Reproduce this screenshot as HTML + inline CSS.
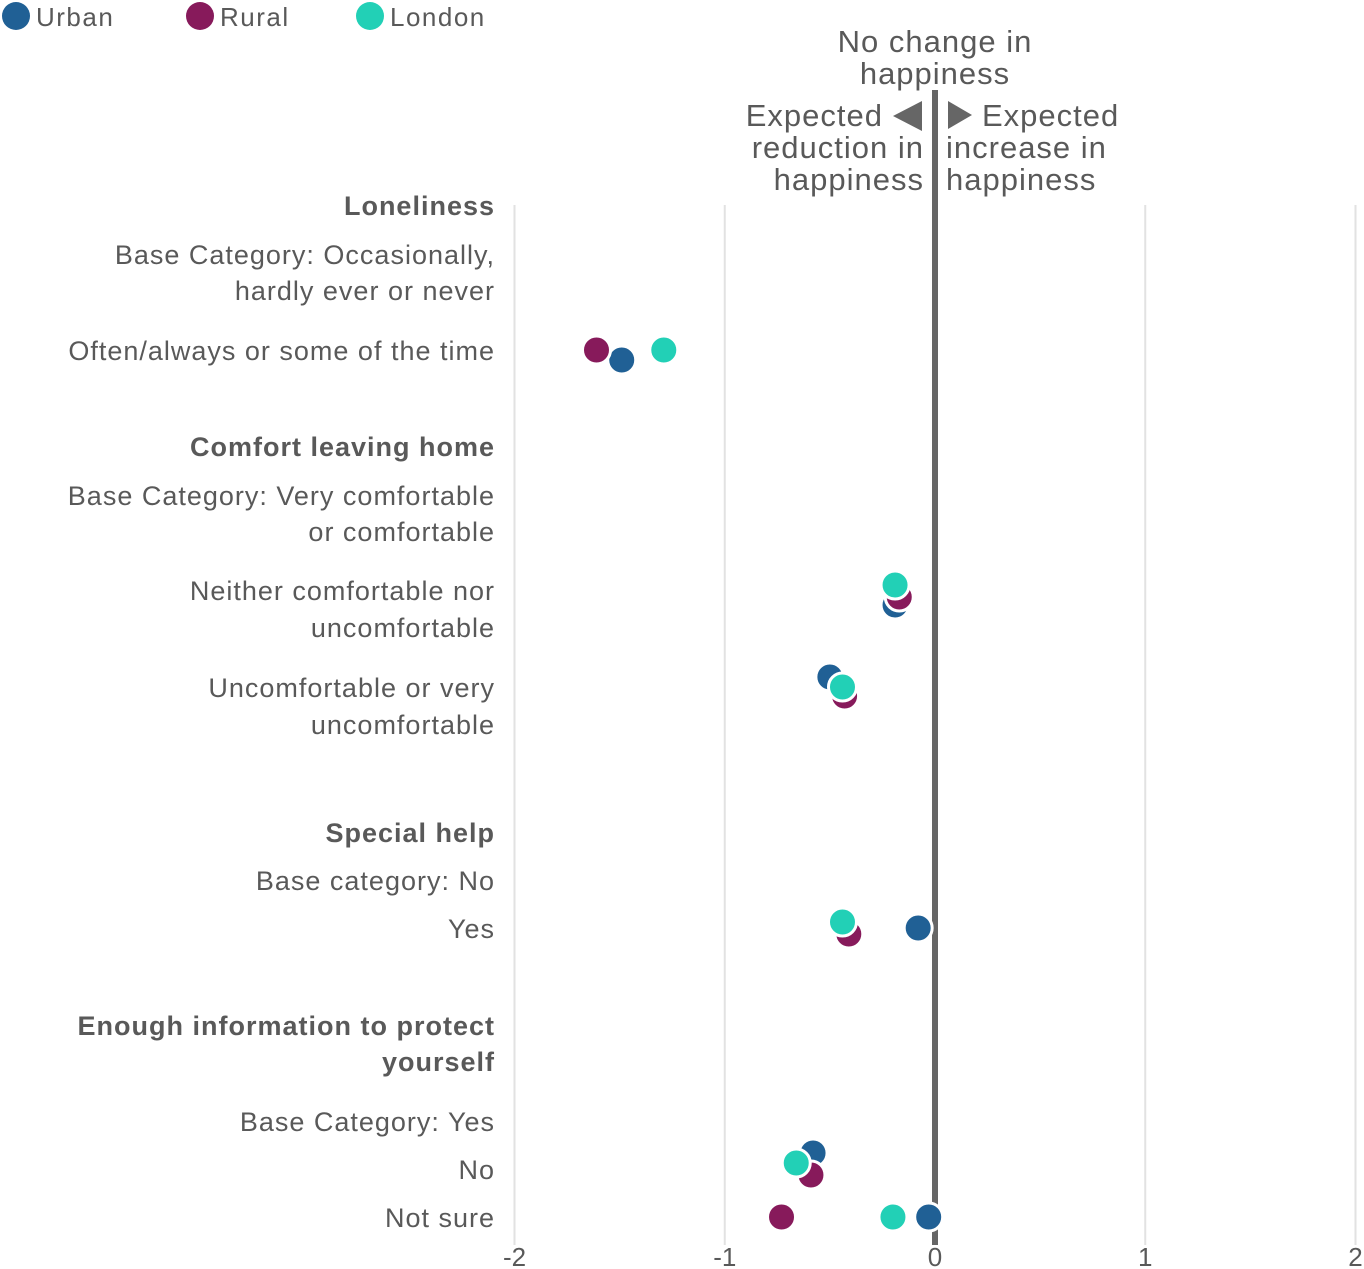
<!DOCTYPE html>
<html><head><meta charset="utf-8"><style>
body{margin:0;background:#fff;}
svg{display:block;font-family:"Liberation Sans",sans-serif;}
</style></head><body>
<svg id="chart" width="1364" height="1269" xmlns="http://www.w3.org/2000/svg">
<g id="legend" letter-spacing="1.5">
 <g><circle cx="16" cy="16" r="14" fill="#206095"/><text x="36" y="26" font-size="26" fill="#595959">Urban</text></g>
 <g><circle cx="200" cy="16" r="14" fill="#871a5b"/><text x="220" y="26" font-size="26" fill="#595959">Rural</text></g>
 <g><circle cx="370" cy="16" r="14" fill="#22d0b6"/><text x="390" y="26" font-size="26" fill="#595959">London</text></g>
</g>
<g id="grid"></g>
<g id="labels"></g>
<g id="annot" font-size="31" fill="#595959" letter-spacing="1">
 <text x="935" y="52" text-anchor="middle">No change in</text>
 <text x="935" y="84" text-anchor="middle">happiness</text>
 <text x="883" y="126" text-anchor="end">Expected</text>
 <text x="924" y="158" text-anchor="end">reduction in</text>
 <text x="924" y="190" text-anchor="end">happiness</text>
 <polygon points="922,101 922,131 893,116" fill="#666"/>
 <polygon points="948,101 948,129 972,115" fill="#666"/>
 <text x="982" y="126">Expected</text>
 <text x="946" y="158">increase in</text>
 <text x="946" y="190">happiness</text>
</g>
<g id="dots"></g>
</svg>
<script>
const ticks=[-2,-1,0,1,2];
const tickLabels=["-2","-1","0","1","2"];
const labelLines=[["Loneliness",206,true],["Base Category: Occasionally,",255,false],["hardly ever or never",291,false],["Often/always or some of the time",351,false],["Comfort leaving home",447,true],["Base Category: Very comfortable",496,false],["or comfortable",532,false],["Neither comfortable nor",591,false],["uncomfortable",628,false],["Uncomfortable or very",688,false],["uncomfortable",725,false],["Special help",833,true],["Base category: No",881,false],["Yes",929,false],["Enough information to protect",1026,true],["yourself",1062,true],["Base Category: Yes",1122,false],["No",1170,false],["Not sure",1218,false]];
const categories=["Often/always","Neither","Uncomfortable","Yes","No","Not sure"];
const urban=[-1.49,-0.19,-0.50,-0.08,-0.58,-0.03];
const rural=[-1.61,-0.17,-0.43,-0.41,-0.59,-0.73];
const london=[-1.29,-0.19,-0.44,-0.44,-0.66,-0.20];
const rowY=[351,595,687,928,1164,1217];
const urbanDy=[9,10,-10,0,-11,0];
const ruralDy=[-1,2,9,6,11,0];
const londonDy=[-1,-10,0,-6,-1,0];
const NS="http://www.w3.org/2000/svg";
const x=v=>935+v*210.25;
function mk(tag,attrs,parent){const e=document.createElementNS(NS,tag);for(const k in attrs)e.setAttribute(k,attrs[k]);parent.appendChild(e);return e;}
const grid=document.getElementById('grid');
ticks.forEach((t,i)=>{
 if(t!==0){const l=mk('line',{x1:x(t),x2:x(t),y1:205,y2:1245,stroke:'#e2e2e2','stroke-width':2},grid);
 
 }
 const tx=mk('text',{x:x(t),y:1266,'text-anchor':'middle','font-size':26,fill:'#595959'},grid);
 tx.textContent=tickLabels[i];
 
 
});
const zl=mk('line',{x1:x(0),x2:x(0),y1:90,y2:1245,stroke:'#666','stroke-width':6},grid);


const lab=document.getElementById('labels');
labelLines.forEach(([t,y,b])=>{
 const e=mk('text',{x:495,y:y+9,'text-anchor':'end','font-size':27,'letter-spacing':1,fill:'#595959','font-weight':b?'bold':'normal'},lab);
 e.textContent=t;
 
 
});
const dots=document.getElementById('dots');
const series=[["urban",urban,urbanDy,"#206095"],["rural",rural,ruralDy,"#871a5b"],["london",london,londonDy,"#22d0b6"]];
categories.forEach((c,i)=>{
 series.forEach(([n,vals,dy,col])=>{
  const d=mk('circle',{cx:x(vals[i]),cy:rowY[i]+dy[i],r:14,fill:col,stroke:'#fff','stroke-width':3},dots);
  
  
 });
});
</script>
</body></html>
